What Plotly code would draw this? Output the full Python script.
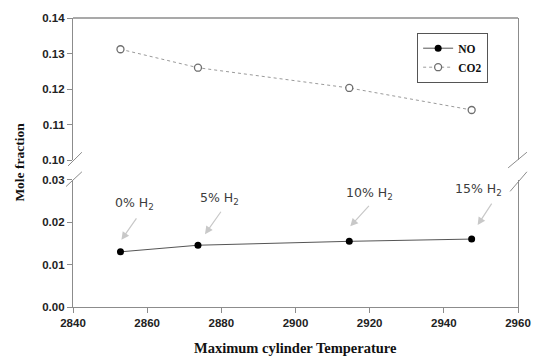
import plotly.graph_objects as go

# Engine data: maximum cylinder temperature vs. mole fractions
temperature = [2852.8, 2873.7, 2914.5, 2947.5]
no_fraction = [0.0130, 0.01455, 0.01547, 0.0160]
co2_fraction = [0.1312, 0.1260, 0.1203, 0.1141]
h2_labels = ["0% H<sub>2</sub>", "5% H<sub>2</sub>", "10% H<sub>2</sub>", "15% H<sub>2</sub>"]

W, H = 543, 359
ML, MR, MT, MB = 73, 20, 12, 52
PW, PH = W - ML - MR, H - MT - MB


def px_x(p):
    return (p - ML) / PW


def px_y(p):
    return (H - MB - p) / PH


axis_col = "#8c8c8c"
tick_font = dict(family="Liberation Sans, Arial", size=11.5, color="#222222", weight="bold")

fig = go.Figure()
fig.add_trace(go.Scatter(
    x=temperature, y=no_fraction, name="NO", mode="lines+markers",
    line=dict(color="#555555", width=1),
    marker=dict(color="black", size=7),
    xaxis="x", yaxis="y",
))
fig.add_trace(go.Scatter(
    x=temperature, y=co2_fraction, name="CO2", mode="lines+markers",
    line=dict(color="#9a9a9a", width=1, dash="dot"),
    marker=dict(color="white", size=7, line=dict(color="#6e6e6e", width=1.3)),
    xaxis="x", yaxis="y2",
))

low_top = px_y(177)
up_bottom = px_y(157)

fig.update_layout(
    width=W, height=H,
    margin=dict(l=ML, r=MR, t=MT, b=MB),
    paper_bgcolor="white", plot_bgcolor="white",
    showlegend=True,
    legend=dict(
        x=px_x(421), y=px_y(27), xanchor="left", yanchor="top",
        bordercolor="#555555", borderwidth=1, bgcolor="white",
        font=dict(family="Liberation Serif, Times New Roman", size=11.5, color="#111111", weight="bold"),
        itemwidth=30, tracegroupgap=0,
    ),
    xaxis=dict(
        range=[2840, 2960], dtick=20, tick0=2840,
        showgrid=False, zeroline=False,
        showline=True, linecolor=axis_col, linewidth=1.3, mirror=False,
        ticks="outside", ticklen=5, tickcolor=axis_col,
        tickfont=tick_font, anchor="y",
    ),
    yaxis=dict(
        domain=[0, low_top], range=[0, 0.03], dtick=0.01, tickformat=".2f",
        showgrid=False, zeroline=False,
        showline=True, linecolor=axis_col, linewidth=1.3, mirror=True,
        ticks="outside", ticklen=5, tickcolor=axis_col,
        tickfont=tick_font, anchor="x",
    ),
    yaxis2=dict(
        domain=[up_bottom, 1], range=[0.10, 0.14], dtick=0.01, tickformat=".2f",
        showgrid=False, zeroline=False,
        showline=True, linecolor=axis_col, linewidth=1.3, mirror=True,
        ticks="outside", ticklen=5, tickcolor=axis_col,
        tickfont=tick_font, anchor="x",
    ),
)

# top frame edge
fig.add_shape(type="line", xref="paper", yref="paper", x0=0, x1=1, y0=1, y1=1,
              line=dict(color=axis_col, width=1.3))

# axis break marks on both sides
breaks = [
    (68, 163, 82, 149), (66, 184, 82, 169),
    (513, 165, 532, 149), (515, 189, 532, 169),
]
for x0, y0, x1, y1 in breaks:
    fig.add_shape(type="line", xref="paper", yref="paper",
                  x0=px_x(x0), y0=px_y(y0), x1=px_x(x1), y1=px_y(y1),
                  line=dict(color=axis_col, width=1))

# hydrogen blend labels with pointer arrows
arrow_tail = [(16, -23), (17, -24), (20, -22), (15, -23)]
arrow_shift = [(1, 12), (7, 11), (1, 15), (6, 14)]
text_shift = [(14, 48), (22, 47), (20, 48), (7, 50)]
for i, (t, v, lab) in enumerate(zip(temperature, no_fraction, h2_labels)):
    fig.add_annotation(
        x=t, y=v, xref="x", yref="y", text="",
        showarrow=True, arrowhead=2, arrowsize=1.3, arrowwidth=1.2,
        arrowcolor="#c8c8c8",
        ax=arrow_tail[i][0], ay=arrow_tail[i][1],
        xshift=arrow_shift[i][0], yshift=arrow_shift[i][1],
    )
    fig.add_annotation(
        x=t, y=v, xref="x", yref="y", text=lab, showarrow=False,
        xanchor="center", yanchor="middle",
        xshift=text_shift[i][0], yshift=text_shift[i][1],
        font=dict(family="DejaVu Sans, Verdana", size=12.5, color="#3c3c3c"),
    )

# axis titles
fig.add_annotation(
    xref="paper", yref="paper", x=px_x(18), y=px_y(159),
    xanchor="center", yanchor="middle",
    text="Mole fraction", textangle=-90, showarrow=False,
    font=dict(family="Liberation Serif, Times New Roman", size=13.5, color="#111111", weight="bold"),
)
fig.add_annotation(
    xref="paper", yref="paper", x=px_x(298), y=px_y(349),
    xanchor="center", yanchor="middle",
    text="Maximum cylinder Temperature", showarrow=False,
    font=dict(family="Liberation Serif, Times New Roman", size=14.5, color="#111111", weight="bold"),
)

fig.write_html("out.html")
